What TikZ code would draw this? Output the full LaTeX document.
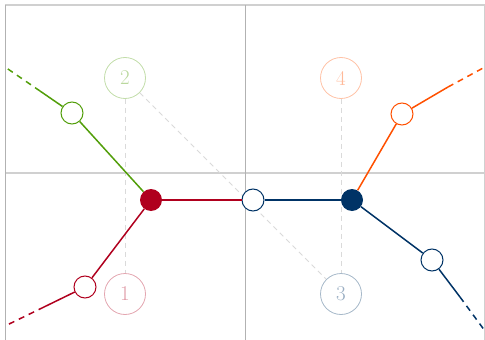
\documentclass[tikz,border=0pt]{standalone}
\usetikzlibrary{positioning}
\definecolor{pathred}{RGB}{176,0,30}
\definecolor{pathnavy}{RGB}{0,51,102}
\definecolor{pathgreen}{RGB}{82,158,10}
\definecolor{pathorange}{RGB}{255,80,0}
\definecolor{gridlight}{RGB}{208,208,208}
\definecolor{griddark}{RGB}{178,178,178}
\definecolor{guidegray}{RGB}{218,218,218}

\begin{document}
\begin{tikzpicture}[
  x=1pt, y=-1pt,
  hgrid/.style={draw=gridlight, line width=1.8pt},
  vgrid/.style={draw=griddark, line width=0.8pt},
  guide/.style={draw=guidegray, line width=1pt, dash pattern=on 5pt off 4pt},
  label/.style={circle, draw=#1!35, line width=0.8pt, minimum size=41pt,
    inner sep=0pt, text=#1!40, font=\fontsize{21}{21}\selectfont},
  state/.style={circle, fill=#1, minimum size=22pt, inner sep=0pt},
  open/.style={circle, draw=#1, fill=white, line width=1pt,
    minimum size=22pt, inner sep=0pt},
  branch/.style={draw=#1, line width=1.5pt},
  tail/.style={draw=#1, line width=1.5pt, dash pattern=on 6pt off 5pt}
]
\useasboundingbox (0,0) rectangle (485,340);

% frame
\draw[hgrid] (5,5) -- (485,5);
\draw[hgrid] (5,173) -- (485,173);
\draw[vgrid] (5,5) -- (5,340);
\draw[vgrid] (245,5) -- (245,340);
\draw[draw=gridlight, line width=0.5pt] (484,5) -- (484,340);

% numbered regions
\node[label=pathgreen] (l2) at (125,78) {2};
\node[label=pathorange] (l4) at (341,78) {4};
\node[label=pathred] (l1) at (125,294) {1};
\node[label=pathnavy] (l3) at (341,294) {3};

\draw[guide] (l2) -- (l1);
\draw[guide] (l4) -- (l3);
\draw[guide] (l2) -- (l3);

% states
\node[state=pathred] (sred) at (151,200) {};
\node[state=pathnavy] (snavy) at (352,200) {};
\node[open=pathnavy] (omid) at (253,200) {};
\node[open=pathgreen] (ogreen) at (72,113) {};
\node[open=pathred] (ored) at (85,287) {};
\node[open=pathorange] (oorange) at (402,114) {};
\node[open=pathnavy] (onavy) at (432,260) {};

\coordinate (gbrk) at (40,91);
\coordinate (gend) at (5,67);
\coordinate (rbrk) at (44,307);
\coordinate (rend) at (5,326);
\coordinate (obrk) at (448,87);
\coordinate (oend) at (485,67);
\coordinate (nbrk) at (460,297);
\coordinate (nend) at (485,331);

\draw[branch=pathred] (sred) -- (omid);
\draw[branch=pathnavy] (omid) -- (snavy);
\draw[branch=pathgreen] (sred) -- (ogreen);
\draw[branch=pathgreen] (ogreen) -- (gbrk);
\draw[tail=pathgreen] (gbrk) -- (gend);
\draw[branch=pathred] (sred) -- (ored);
\draw[branch=pathred] (ored) -- (rbrk);
\draw[tail=pathred] (rbrk) -- (rend);
\draw[branch=pathorange] (snavy) -- (oorange);
\draw[branch=pathorange] (oorange) -- (obrk);
\draw[tail=pathorange] (obrk) -- (oend);
\draw[branch=pathnavy] (snavy) -- (onavy);
\draw[branch=pathnavy] (onavy) -- (nbrk);
\draw[tail=pathnavy] (nbrk) -- (nend);

\end{tikzpicture}
\end{document}
